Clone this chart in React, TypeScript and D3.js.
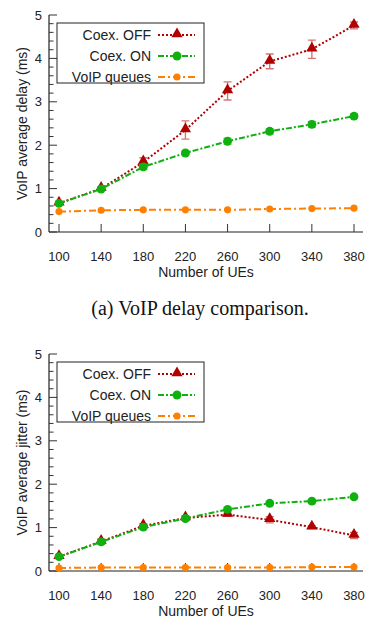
import React, { useRef, useEffect } from 'react';
import * as d3 from 'd3';

// number of UEs
const ues = [100, 140, 180, 220, 260, 300, 340, 380];

// (a) delay, ms
const delayOff = [0.66, 1.0, 1.61, 2.35, 3.25, 3.93, 4.21, 4.76];
const delayOffErr = [0.03, 0.04, 0.1, 0.21, 0.21, 0.17, 0.21, 0.08];
const delayOn = [0.66, 0.99, 1.5, 1.82, 2.09, 2.32, 2.48, 2.67];
const delayOnErr = [0.03, 0.04, 0.06, 0.05, 0.07, 0.06, 0.07, 0.05];
const delayQueues = [0.47, 0.5, 0.51, 0.51, 0.51, 0.53, 0.54, 0.55];

// (b) jitter, ms
const jitterOff = [0.33, 0.68, 1.04, 1.22, 1.3, 1.18, 1.01, 0.82];
const jitterOffErr = [0.03, 0.06, 0.05, 0.05, 0.04, 0.07, 0.03, 0.07];
const jitterOn = [0.33, 0.67, 1.01, 1.21, 1.42, 1.56, 1.61, 1.71];
const jitterOnErr = [0.03, 0.05, 0.04, 0.04, 0.04, 0.04, 0.04, 0.03];
const jitterQueues = [0.07, 0.08, 0.08, 0.08, 0.08, 0.08, 0.09, 0.09];

const yTicks = [0, 1, 2, 3, 4, 5];
const legendLabels = ['Coex. OFF', 'Coex. ON', 'VoIP queues'];

const colors = {
    off: '#b00000',
    offErr: 'rgba(200,70,70,0.75)',
    on: '#10b010',
    onErr: 'rgba(60,190,60,0.7)',
    queues: '#ff8000'
};
const dashes = ['2,2', '6,2,2,2', '7,3,2,3'];

interface PanelProps {
    off: number[]; offErr: number[];
    on: number[]; onErr: number[];
    queues: number[];
    yLabel: string;
    top: number;
}

const Panel: React.FC<PanelProps> = ({ off, offErr, on, onErr, queues, yLabel, top }) => {
    const gRef = useRef<SVGGElement | null>(null);

    useEffect(() => {
        if (!gRef.current) return;
        const g = d3.select(gRef.current);
        g.selectAll('*').remove();

        const x = d3.scaleLinear().domain([100, 380]).range([59, 354]);
        const y = d3.scaleLinear().domain([0, 5]).range([top + 232, top + 15]);
        const font = 'Liberation Sans, Arial, sans-serif';
        const axisX = 49;

        // axes
        g.append('line').attr('x1', axisX).attr('x2', axisX)
            .attr('y1', y(5)).attr('y2', y(0)).attr('stroke', '#222').attr('stroke-width', 1.2);
        g.append('line').attr('x1', axisX).attr('x2', 363)
            .attr('y1', y(0)).attr('y2', y(0)).attr('stroke', '#222').attr('stroke-width', 1.2);

        const minor = d3.range(0, 5.01, 0.2);
        g.selectAll('.ymin').data(minor).enter().append('line')
            .attr('x1', axisX).attr('x2', d => Math.abs(d - Math.round(d)) < 1e-6 ? axisX + 8 : axisX + 4.5)
            .attr('y1', d => y(d)).attr('y2', d => y(d))
            .attr('stroke', '#333').attr('stroke-width', 1);

        g.selectAll('.ylab').data(yTicks).enter().append('text')
            .attr('x', 42).attr('y', d => y(d) + 4.5)
            .attr('text-anchor', 'end').attr('font-family', font).attr('font-size', 13)
            .attr('fill', '#222').text(d => d);

        g.selectAll('.xt').data(ues).enter().append('line')
            .attr('x1', d => x(d)).attr('x2', d => x(d))
            .attr('y1', y(0)).attr('y2', y(0) - 8)
            .attr('stroke', '#333').attr('stroke-width', 1);

        g.selectAll('.xlab').data(ues).enter().append('text')
            .attr('x', d => x(d)).attr('y', y(0) + 29)
            .attr('text-anchor', 'middle').attr('font-family', font).attr('font-size', 13)
            .attr('fill', '#222').text(d => d);

        g.append('text').attr('x', 206).attr('y', y(0) + 45)
            .attr('text-anchor', 'middle').attr('font-family', font).attr('font-size', 14)
            .attr('fill', '#222').text('Number of UEs');

        g.append('text')
            .attr('transform', `translate(27,${(y(0) + y(5)) / 2}) rotate(-90)`)
            .attr('text-anchor', 'middle').attr('font-family', font).attr('font-size', 14)
            .attr('fill', '#222').text(yLabel);

        const line = d3.line<number>().x((d, i) => x(ues[i])).y(d => y(d));

        const tri = d3.symbol().type(d3.symbolTriangle).size(55);
        const dia = d3.symbol().type(d3.symbolCircle).size(62);
        const dot = d3.symbol().type(d3.symbolCircle).size(40);

        const errBars = (vals: number[], errs: number[], color: string) => {
            vals.forEach((v, i) => {
                const cx = x(ues[i]);
                const lo = y(v - errs[i]);
                const hi = y(v + errs[i]);
                g.append('path')
                    .attr('d', `M${cx},${lo}V${hi}M${cx - 4},${lo}H${cx + 4}M${cx - 4},${hi}H${cx + 4}`)
                    .attr('stroke', color).attr('stroke-width', 1.4).attr('fill', 'none');
            });
        };

        // VoIP queues
        g.append('path').datum(queues).attr('d', line).attr('fill', 'none')
            .attr('stroke', colors.queues).attr('stroke-width', 2).attr('stroke-dasharray', dashes[2]);
        g.selectAll('.q').data(queues).enter().append('path')
            .attr('d', dot).attr('fill', colors.queues)
            .attr('transform', (d, i) => `translate(${x(ues[i])},${y(d)})`);

        // Coex OFF
        errBars(off, offErr, colors.offErr);
        g.append('path').datum(off).attr('d', line).attr('fill', 'none')
            .attr('stroke', colors.off).attr('stroke-width', 2).attr('stroke-dasharray', dashes[0]);
        g.selectAll('.off').data(off).enter().append('path')
            .attr('d', tri).attr('fill', colors.off)
            .attr('transform', (d, i) => `translate(${x(ues[i])},${y(d) - 1})`);

        // Coex ON
        errBars(on, onErr, colors.onErr);
        g.append('path').datum(on).attr('d', line).attr('fill', 'none')
            .attr('stroke', colors.on).attr('stroke-width', 2).attr('stroke-dasharray', dashes[1]);
        g.selectAll('.on').data(on).enter().append('path')
            .attr('d', dia).attr('fill', colors.on)
            .attr('transform', (d, i) => `translate(${x(ues[i])},${y(d)})`);

        // legend
        const lg = g.append('g').attr('transform', `translate(0,${top})`);
        lg.append('rect').attr('x', 57).attr('y', 23).attr('width', 147).attr('height', 60)
            .attr('fill', 'white').attr('stroke', '#222').attr('stroke-width', 1);
        const lColors = [colors.off, colors.on, colors.queues];
        const lSyms = [tri, dia, dot];
        legendLabels.forEach((lab, i) => {
            const ly = 35 + i * 21;
            lg.append('text').attr('x', 151).attr('y', ly + 5)
                .attr('text-anchor', 'end').attr('font-family', font).attr('font-size', 14)
                .attr('fill', '#222').text(lab);
            lg.append('line').attr('x1', 158).attr('x2', 195).attr('y1', ly).attr('y2', ly)
                .attr('stroke', lColors[i]).attr('stroke-width', 2).attr('stroke-dasharray', dashes[i]);
            lg.append('path').attr('d', lSyms[i]).attr('fill', lColors[i])
                .attr('transform', `translate(177,${i === 0 ? ly - 1 : ly})`);
        });
    }, [off, offErr, on, onErr, queues, yLabel, top]);

    return <g ref={gRef}></g>;
};

export default function App() {
    return (
        <div style={{ position: 'absolute', left: 0, top: 0 }}>
            <svg width={367} height={618} style={{ display: 'block', background: 'white' }}>
                <Panel off={delayOff} offErr={delayOffErr} on={delayOn} onErr={delayOnErr}
                    queues={delayQueues} yLabel="VoIP average delay (ms)" top={0} />
                <text x={200} y={315} textAnchor="middle" fontFamily="Liberation Serif, Times New Roman, serif"
                    fontSize={20} fill="#111">(a) VoIP delay comparison.</text>
                <Panel off={jitterOff} offErr={jitterOffErr} on={jitterOn} onErr={jitterOnErr}
                    queues={jitterQueues} yLabel="VoIP average jitter (ms)" top={339} />
            </svg>
        </div>
    );
}
